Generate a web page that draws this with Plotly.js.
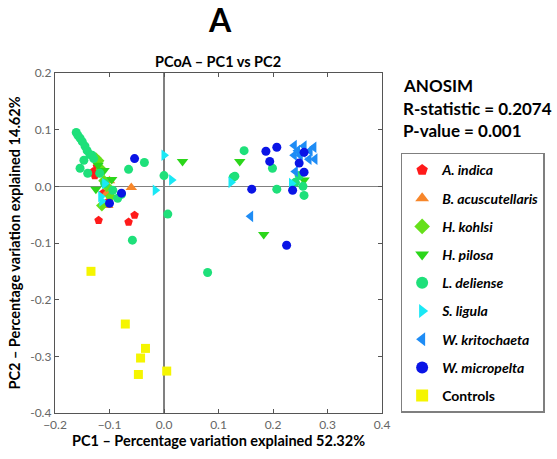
<!DOCTYPE html>
<html>
<head>
<meta charset="utf-8">
<script src="https://cdn.plot.ly/plotly-3.0.1.min.js"></script>
<style>html,body{margin:0;padding:0;background:#fff;}#chart{width:557px;height:459px;}</style>
</head>
<body>
<div id="chart"></div>
<script>
// Group names (legend labels)
const groupNames = ["<i>A. indica</i>", "<i>B. acuscutellaris</i>", "<i>H. kohlsi</i>", "<i>H. pilosa</i>",
  "<i>L. deliense</i>", "<i>S. ligula</i>", "<i>W. kritochaeta</i>", "<i>W. micropelta</i>", "Controls"];

// PC1 / PC2 coordinates per group
const aIndicaX = [-0.130, -0.127, -0.123, -0.112, -0.101, -0.054, -0.120, -0.065];
const aIndicaY = [0.026, 0.019, 0.035, -0.012, -0.026, -0.051, -0.060, -0.063];

const bAcuX = [-0.060, -0.105, -0.103, -0.100];
const bAcuY = [-0.002, -0.012, -0.034, 0.010];

const hKohlsiX = [-0.125, -0.120, -0.115, -0.110, -0.105, -0.114, -0.098];
const hKohlsiY = [0.050, 0.045, 0.030, 0.010, 0.000, -0.034, -0.018];

const hPilosaX = [0.034, 0.139, 0.257, 0.183, -0.125, -0.096, -0.110, -0.121];
const hPilosaY = [0.044, 0.044, 0.011, -0.085, -0.005, 0.012, 0.028, 0.037];

const lDelienseX = [-0.161, -0.158, -0.154, -0.150, -0.145, -0.141, -0.136, -0.132, -0.129, -0.154, -0.147,
  -0.065, -0.036, 0.000, -0.094, -0.085, -0.078, -0.058, 0.007, 0.080, 0.127, 0.147, 0.130, 0.199, 0.207,
  0.241, 0.248, 0.255, 0.257, -0.118, -0.109, -0.140];
const lDelienseY = [0.095, 0.090, 0.085, 0.079, 0.071, 0.063, 0.056, 0.055, 0.049, 0.032, 0.046,
  0.030, 0.042, 0.019, -0.007, -0.021, -0.014, -0.095, -0.049, -0.152, 0.016, 0.063, 0.018, 0.032, -0.005,
  0.007, 0.019, 0.000, -0.016, 0.023, 0.005, 0.023];

const sLigulaX = [0.000, 0.014, -0.016, 0.123, 0.234, -0.116, -0.114, -0.109];
const sLigulaY = [0.055, 0.011, -0.007, 0.007, 0.005, -0.018, -0.026, 0.005];

const wKritoX = [0.239, 0.245, 0.239, 0.250, 0.257, 0.268, 0.275, 0.266, 0.277, 0.241, 0.159, 0.255];
const wKritoY = [0.072, 0.063, 0.055, 0.055, 0.071, 0.063, 0.069, 0.048, 0.048, 0.026, -0.053, 0.060];

const wMicroX = [-0.054, -0.078, -0.100, 0.161, 0.187, 0.207, 0.194, 0.236, 0.257, 0.248, 0.257, 0.225];
const wMicroY = [0.049, -0.012, -0.030, -0.005, 0.062, 0.069, 0.044, -0.007, 0.025, 0.041, 0.060, -0.104];

const controlsX = [-0.134, -0.071, -0.034, -0.043, -0.047, 0.005];
const controlsY = [-0.150, -0.243, -0.286, -0.303, -0.332, -0.326];

const xTicks = [-0.2, -0.1, 0.0, 0.1, 0.2, 0.3, 0.4];
const xTickText = ["\u22120.2", "\u22120.1", "0.0", "0.1", "0.2", "0.3", "0.4"];
const yTicks = [0.2, 0.1, 0.0, -0.1, -0.2, -0.3, -0.4];
const yTickText = ["0.2", "0.1", "0.0", "-0.1", "-0.2", "-0.3", "-0.4"];

const styles = [
  {symbol: "pentagon", color: "#ff1a1a", size: 9},
  {symbol: "triangle-up", color: "#f7862a", size: 10},
  {symbol: "diamond", color: "#66e01a", size: 9},
  {symbol: "triangle-down", color: "#2bd61a", size: 10},
  {symbol: "circle", color: "#1ee07a", size: 9},
  {symbol: "triangle-right", color: "#1ae8f5", size: 10},
  {symbol: "triangle-left", color: "#1e8cf5", size: 10},
  {symbol: "circle", color: "#0a14e6", size: 9},
  {symbol: "square", color: "#f5f500", size: 9}
];
const xs = [aIndicaX, bAcuX, hKohlsiX, hPilosaX, lDelienseX, sLigulaX, wKritoX, wMicroX, controlsX];
const ys = [aIndicaY, bAcuY, hKohlsiY, hPilosaY, lDelienseY, sLigulaY, wKritoY, wMicroY, controlsY];

const traces = groupNames.map((n, i) => ({
  type: "scatter", mode: "markers", name: "<b>" + n + "</b>",
  x: xs[i], y: ys[i], legendgroup: "g" + i,
  marker: {symbol: styles[i].symbol, color: styles[i].color, size: styles[i].size, line: {width: 0}}
}));

const font = "Lato, 'Open Sans', sans-serif";
const layout = {
  width: 557, height: 459,
  margin: {l: 55, r: 171, t: 73, b: 46},
  paper_bgcolor: "#fff", plot_bgcolor: "#fff",
  font: {family: font, color: "#000"},
  showlegend: true,
  legend: {
    x: 1.057, y: 0.765, xanchor: "left", yanchor: "top",
    bordercolor: "#7f7f7f", borderwidth: 1.5, bgcolor: "#fff",
    font: {family: font, size: 14, color: "#000"},
    traceorder: "grouped", tracegroupgap: 7, itemsizing: "constant"
  },
  xaxis: {
    range: [-0.2, 0.4], tickvals: xTicks, ticktext: xTickText,
    ticks: "inside", ticklen: 4, tickcolor: "#555", mirror: "ticks",
    showline: true, linecolor: "#555", linewidth: 1.2, showgrid: false,
    zeroline: true, zerolinecolor: "#808080", zerolinewidth: 1.5,
    tickfont: {family: font, size: 12, color: "#666"},
    title: {text: "<b>PC1 \u2013 Percentage variation explained 52.32%</b>", font: {family: font, size: 14.5}, standoff: 5}
  },
  yaxis: {
    range: [-0.4, 0.2], tickvals: yTicks, ticktext: yTickText,
    ticks: "inside", ticklen: 4, tickcolor: "#555", mirror: "ticks",
    showline: true, linecolor: "#555", linewidth: 1.2, showgrid: false,
    zeroline: true, zerolinecolor: "#808080", zerolinewidth: 1.5,
    tickfont: {family: font, size: 12, color: "#666"},
    title: {text: "<b>PC2 \u2013 Percentage variation explained 14.62%</b>", font: {family: font, size: 14.5}, standoff: 6}
  },
  annotations: [
    {text: "<b>A</b>", xref: "paper", yref: "paper", x: 0.505, y: 1.156, xanchor: "center", yanchor: "middle", showarrow: false, font: {family: font, size: 32}},
    {text: "<b>PCoA \u2013 PC1 vs PC2</b>", xref: "paper", yref: "paper", x: 0.497, y: 1.035, xanchor: "center", yanchor: "middle", showarrow: false, font: {family: font, size: 14.5}},
    {text: "<b>ANOSIM</b>", xref: "paper", yref: "paper", x: 1.057, y: 0.962, xanchor: "left", yanchor: "middle", showarrow: false, font: {family: font, size: 17}},
    {text: "<b>R-statistic = 0.2074</b>", xref: "paper", yref: "paper", x: 1.057, y: 0.897, xanchor: "left", yanchor: "middle", showarrow: false, font: {family: font, size: 17}},
    {text: "<b>P-value = 0.001</b>", xref: "paper", yref: "paper", x: 1.057, y: 0.832, xanchor: "left", yanchor: "middle", showarrow: false, font: {family: font, size: 17}}
  ]
};

Plotly.newPlot("chart", traces, layout, {displayModeBar: false, staticPlot: true});
</script>
</body>
</html>
